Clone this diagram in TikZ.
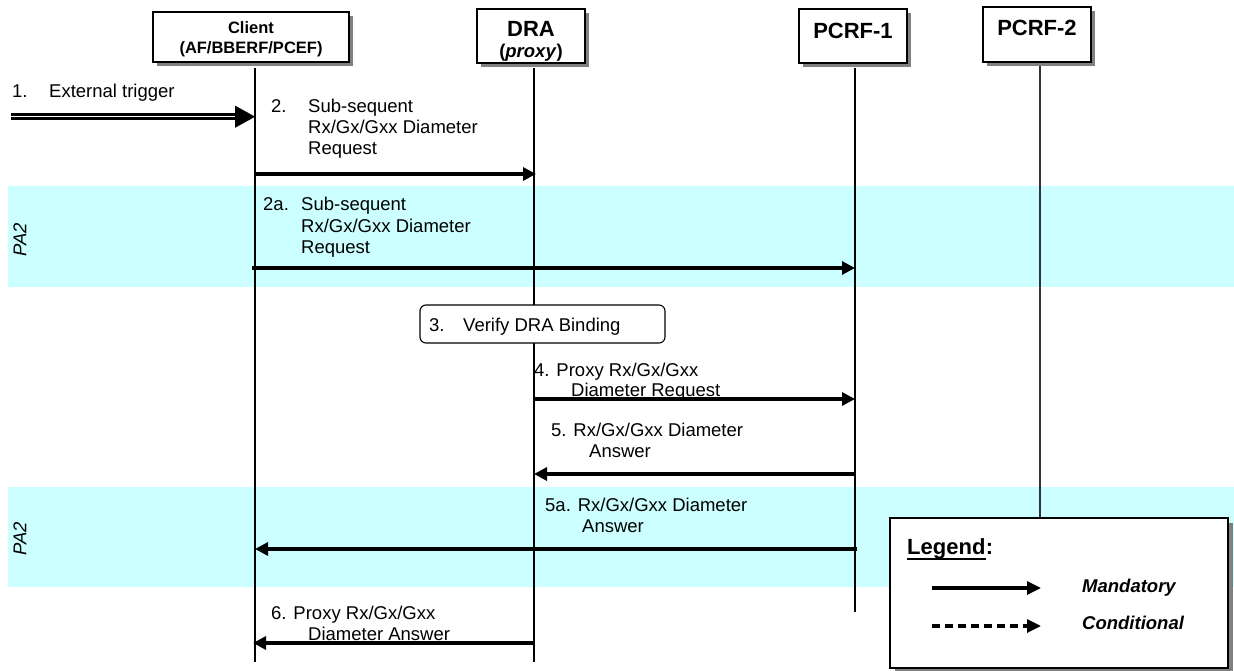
\documentclass[tikz,border=0pt]{standalone}
\usepackage{fontspec}
\setmainfont{Liberation Sans}
\usetikzlibrary{arrows.meta,calc}
\definecolor{band}{HTML}{CCFFFF}
\definecolor{shade}{HTML}{808080}
\newcommand\msgf{\fontsize{18.5}{21}\selectfont}
\begin{document}
\begin{tikzpicture}[x=1pt,y=-1pt,
  hdrbox/.style={draw=black, line width=1.6pt, fill=white, inner sep=0pt},
  shd/.style={fill=shade, draw=none, inner sep=0pt},
  hdrtxt/.style={font=\bfseries\fontsize{22}{24}\selectfont, inner sep=0pt},
  life/.style={line width=1.6pt, draw=black},
  lbl/.style={font=\msgf, inner sep=0pt, anchor=base west},
  msg/.style={line width=3.2pt, -{Triangle[length=13pt,width=13pt]}},
  pa/.style={font=\itshape\msgf, rotate=90, inner sep=0pt},
  legitem/.style={font=\bfseries\itshape\msgf, inner sep=0pt, anchor=base west}]
\useasboundingbox (0,0) rectangle (1234,671);
\fill[white] (0,0) rectangle (1234,671);
% PA2 bands
\fill[band] (8,186) rectangle (1234,287);
\fill[band] (8,487) rectangle (1234,587);
\node[pa] (pa1) at (20,240) {PA2};
\node[pa] (pa2) at (20,539) {PA2};
% lifeline ends
\coordinate (clT) at (255,68);  \coordinate (clB) at (255,662);
\coordinate (drT) at (534,68);  \coordinate (drB) at (534,662);
\coordinate (p1T) at (855,68);  \coordinate (p1B) at (855,612);
\coordinate (p2T) at (1040,66); \coordinate (p2B) at (1040,520);
\draw[life] (clT) -- (clB);
\draw[life] (drT) -- (drB);
\draw[life] (p1T) -- (p1B);
\draw[life, draw=black!80] (p2T) -- (p2B);
% header boxes with shadows
\node[shd, minimum width=196pt, minimum height=50pt] (clsh) at (255,41) {};
\node[shd, minimum width=108pt, minimum height=54pt] (drash) at (535,40) {};
\node[shd, minimum width=108pt, minimum height=54pt] (pc1sh) at (857,40) {};
\node[shd, minimum width=108pt, minimum height=55pt] (pc2sh) at (1041,38.5) {};
\node[hdrbox, minimum width=196pt, minimum height=50pt] (cl) at (251,37) {};
\node[hdrbox, minimum width=108pt, minimum height=54pt] (dra) at (531,36) {};
\node[hdrbox, minimum width=108pt, minimum height=54pt] (pc1) at (853,36) {};
\node[hdrbox, minimum width=108pt, minimum height=55pt] (pc2) at (1037,34.5) {};
\node[font=\bfseries\fontsize{16.5}{18}\selectfont, inner sep=0pt] (clt1) at (251,28) {Client};
\node[font=\bfseries\fontsize{16.5}{18}\selectfont, inner sep=0pt] (clt2) at (251,49) {(AF/BBERF/PCEF)};
\node[hdrtxt] (drat1) at (531,29) {DRA};
\node[font=\bfseries\fontsize{18.5}{20}\selectfont, inner sep=0pt] (drat2) at (531,53) {(\textit{proxy})};
\node[hdrtxt] (pc1t) at (853,31) {PCRF-1};
\node[hdrtxt] (pc2t) at (1037,28) {PCRF-2};
% 1. external trigger
\coordinate (ext0) at (11,116.7);
\coordinate (ext1) at (255,116.7);
\coordinate (ext2) at (238,116.7);
\draw[double, double distance=1.6pt, line width=2.6pt] (ext0) -- (ext2);
\draw[line width=0.1pt, -{Triangle[length=20pt,width=22pt]}] ($(ext1)+(-20,0)$) -- (ext1);
\node[lbl] (l1a) at (12,98) {1.};
\node[lbl] (l1b) at (49,98) {External trigger};
% 2.
\coordinate (a2s) at (255,174); \coordinate (a2e) at (536,174);
\draw[msg] (a2s) -- (a2e);
\node[lbl] (l2a) at (271,113) {2.};
\node[lbl] (l2b) at (308,113) {Sub-sequent};
\node[lbl] (l2c) at (308,134) {Rx/Gx/Gxx Diameter};
\node[lbl] (l2d) at (308,155) {Request};
% 2a.
\coordinate (a2as) at (252,268); \coordinate (a2ae) at (855,268);
\draw[msg] (a2as) -- (a2ae);
\node[lbl] (l2aa) at (263,211) {2a.};
\node[lbl] (l2ab) at (301,211) {Sub-sequent};
\node[lbl] (l2ac) at (301,233) {Rx/Gx/Gxx Diameter};
\node[lbl] (l2ad) at (301,254) {Request};
% 3.
\node[draw=black, line width=1.1pt, rounded corners=6pt, fill=white, minimum width=245pt, minimum height=38pt] (b3) at (542.5,324) {};
\node[lbl] (l3a) at (429,331.5) {3.};
\node[lbl] (l3b) at (463,331.5) {Verify DRA Binding};
% 4.
\coordinate (a4s) at (534,399); \coordinate (a4e) at (855,399);
\draw[msg] (a4s) -- (a4e);
\node[lbl] (l4a) at (534,376) {4. Proxy Rx/Gx/Gxx};
\node[lbl] (l4b) at (571,396) {Diameter Request};
% 5.
\coordinate (a5s) at (855,474); \coordinate (a5e) at (534,474);
\draw[msg] (a5s) -- (a5e);
\node[lbl] (l5a) at (551,436) {5. Rx/Gx/Gxx Diameter};
\node[lbl] (l5b) at (589,457) {Answer};
% 5a.
\coordinate (a5as) at (857,549); \coordinate (a5ae) at (255,549);
\draw[msg] (a5as) -- (a5ae);
\node[lbl] (l5aa) at (545,511) {5a. Rx/Gx/Gxx Diameter};
\node[lbl] (l5ab) at (582,532) {Answer};
% 6.
\coordinate (a6s) at (534,643); \coordinate (a6e) at (253,643);
\draw[msg] (a6s) -- (a6e);
\node[lbl] (l6a) at (271,619) {6. Proxy Rx/Gx/Gxx};
\node[lbl] (l6b) at (308,640) {Diameter Answer};
% legend
\node[shd, minimum width=338pt, minimum height=150pt] (legsh) at (1064,598) {};
\node[draw=black, line width=2.5pt, fill=white, inner sep=0pt, minimum width=338pt, minimum height=150pt] (leg) at (1059,593) {};
\node[font=\bfseries\fontsize{22}{24}\selectfont, inner sep=0pt, anchor=base west] (legw) at (907,554) {Legend};
\node[font=\bfseries\fontsize{22}{24}\selectfont, inner sep=0pt, anchor=base west] (legc) at (legw.base east) {:};
\draw[line width=2pt] ([yshift=-4.5pt]legw.base west) -- ([yshift=-4.5pt]legw.base east);
\coordinate (m0) at (932,588); \coordinate (m1) at (1041,588);
\draw[line width=3.2pt, -{Triangle[length=14pt,width=13pt]}] (m0) -- (m1);
\coordinate (c0) at (932,626); \coordinate (c1) at (1041,626);
\draw[line width=3.2pt, dash pattern=on 8pt off 5pt, -{Triangle[length=14pt,width=13pt]}] (c0) -- (c1);
\node[legitem] (lm) at (1082,592) {Mandatory};
\node[legitem] (lc) at (1082,629) {Conditional};
\end{tikzpicture}
\end{document}
